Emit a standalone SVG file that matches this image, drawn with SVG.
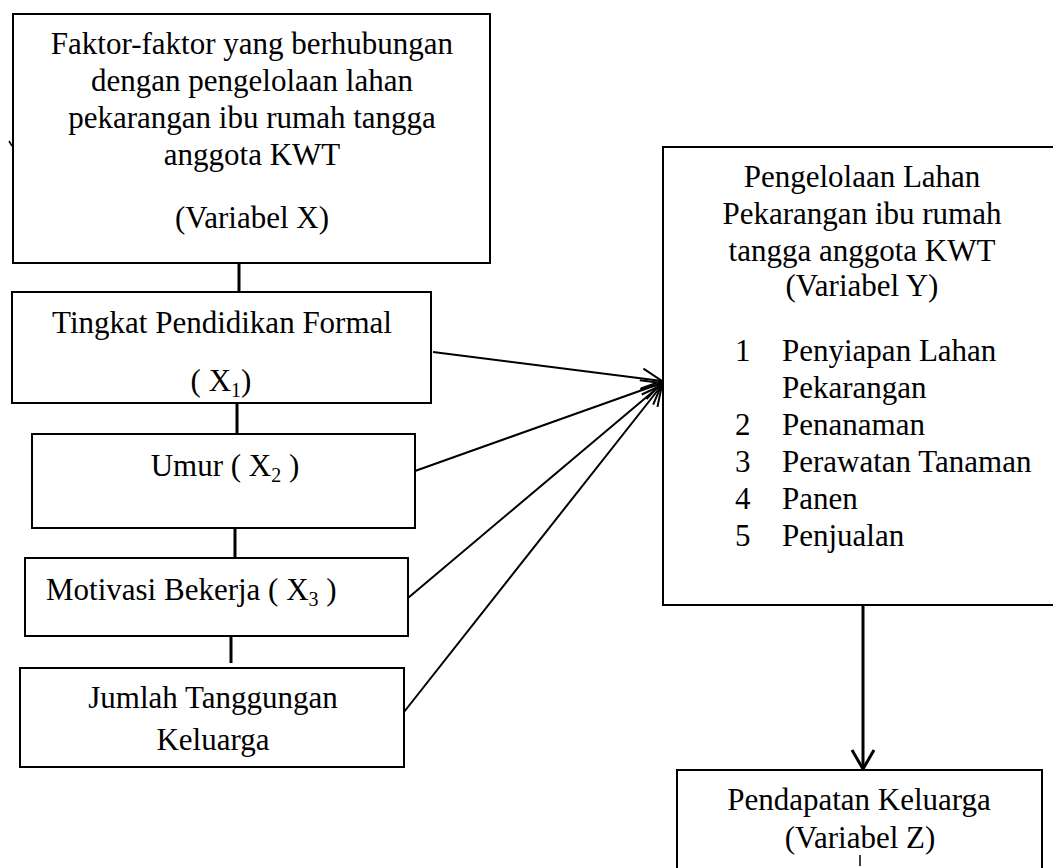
<svg xmlns="http://www.w3.org/2000/svg" width="1053" height="868" viewBox="0 0 1053 868">
<style>
  .box { fill: #ffffff; stroke: #000000; stroke-width: 2; }
  .t { font-family: "Liberation Serif", "Times New Roman", serif; font-size: 31px; fill: #000000; }
  .c { text-anchor: middle; }
  .sub { font-size: 20px; }
  .vline { stroke: #000000; stroke-width: 3; fill: none; }
  .arrow { stroke: #000000; stroke-width: 2; fill: none; marker-end: url(#openArrow); }
  .arrowThick { stroke: #000000; stroke-width: 3; fill: none; marker-end: url(#openArrowThick); }
</style>
<defs>
  <marker id="openArrow" markerUnits="userSpaceOnUse" markerWidth="24" markerHeight="24" viewBox="0 0 24 24" refX="21" refY="11" orient="auto" overflow="visible">
    <path d="M1,1 L21,11 L1,21" fill="none" stroke="#000000" stroke-width="2"/>
  </marker>
  <marker id="openArrowThick" markerUnits="userSpaceOnUse" markerWidth="24" markerHeight="28" viewBox="0 0 24 28" refX="20" refY="13" orient="auto" overflow="visible">
    <path d="M1,2 L20,13 L1,24" fill="none" stroke="#000000" stroke-width="3"/>
  </marker>
</defs>
<rect x="0" y="0" width="1053" height="868" fill="#ffffff"/>

<g id="connectors">
  <line class="vline" x1="239" y1="263" x2="239" y2="291"/>
  <line class="vline" x1="237" y1="403" x2="237" y2="434"/>
  <line class="vline" x1="235" y1="528" x2="235" y2="558"/>
  <line class="vline" x1="231" y1="636" x2="231" y2="663"/>
  <line class="arrow" x1="433" y1="352" x2="662" y2="381"/>
  <line class="arrow" x1="415" y1="471" x2="662" y2="383"/>
  <line class="arrow" x1="408" y1="598" x2="662" y2="384"/>
  <line class="arrow" x1="404" y1="712" x2="662" y2="385"/>
  <line class="arrowThick" x1="863" y1="606" x2="863" y2="769"/>
  <path d="M9,141 L12,146" stroke="#000000" stroke-width="1.5" fill="none"/>
</g>

<g id="node-variabel-x">
  <rect class="box" x="13" y="14" width="477" height="249"/>
  <text class="t c" x="252" y="54">Faktor-faktor yang berhubungan</text>
  <text class="t c" x="252" y="91">dengan pengelolaan lahan</text>
  <text class="t c" x="252" y="128">pekarangan ibu rumah tangga</text>
  <text class="t c" x="252" y="165">anggota KWT</text>
  <text class="t c" x="252" y="228">(Variabel X)</text>
</g>

<g id="node-x1">
  <rect class="box" x="12" y="292" width="419" height="111"/>
  <text class="t c" x="222" y="333">Tingkat Pendidikan Formal</text>
  <text class="t c" x="221" y="391">( X<tspan class="sub" dy="6">1</tspan><tspan dy="-6">)</tspan></text>
</g>

<g id="node-x2">
  <rect class="box" x="32" y="434" width="383" height="94"/>
  <text class="t c" x="225" y="476">Umur ( X<tspan class="sub" dy="6">2</tspan><tspan dy="-6"> )</tspan></text>
</g>

<g id="node-x3">
  <rect class="box" x="25" y="558" width="383" height="78"/>
  <text class="t" x="46" y="600">Motivasi Bekerja ( X<tspan class="sub" dy="6">3</tspan><tspan dy="-6"> )</tspan></text>
</g>

<g id="node-x4">
  <rect class="box" x="20" y="668" width="384" height="99"/>
  <text class="t c" x="213" y="708">Jumlah Tanggungan</text>
  <text class="t c" x="213" y="750">Keluarga</text>
</g>

<g id="node-variabel-y">
  <rect class="box" x="663" y="147" width="420" height="458"/>
  <text class="t c" x="862" y="187">Pengelolaan Lahan</text>
  <text class="t c" x="862" y="224">Pekarangan ibu rumah</text>
  <text class="t c" x="862" y="261">tangga anggota KWT</text>
  <text class="t c" x="862" y="296">(Variabel Y)</text>
  <text class="t" x="735" y="361">1</text>
  <text class="t" x="782" y="361">Penyiapan Lahan</text>
  <text class="t" x="782" y="398">Pekarangan</text>
  <text class="t" x="735" y="435">2</text>
  <text class="t" x="782" y="435">Penanaman</text>
  <text class="t" x="735" y="472">3</text>
  <text class="t" x="782" y="472">Perawatan Tanaman</text>
  <text class="t" x="735" y="509">4</text>
  <text class="t" x="782" y="509">Panen</text>
  <text class="t" x="735" y="546">5</text>
  <text class="t" x="782" y="546">Penjualan</text>
</g>

<g id="node-variabel-z">
  <rect class="box" x="677" y="770" width="365" height="130"/>
  <text class="t c" x="859" y="810">Pendapatan Keluarga</text>
  <text class="t c" x="860" y="848">(Variabel Z)</text>
  <line x1="860" y1="855" x2="860" y2="866" stroke="#000000" stroke-width="1.5"/>
</g>
</svg>
